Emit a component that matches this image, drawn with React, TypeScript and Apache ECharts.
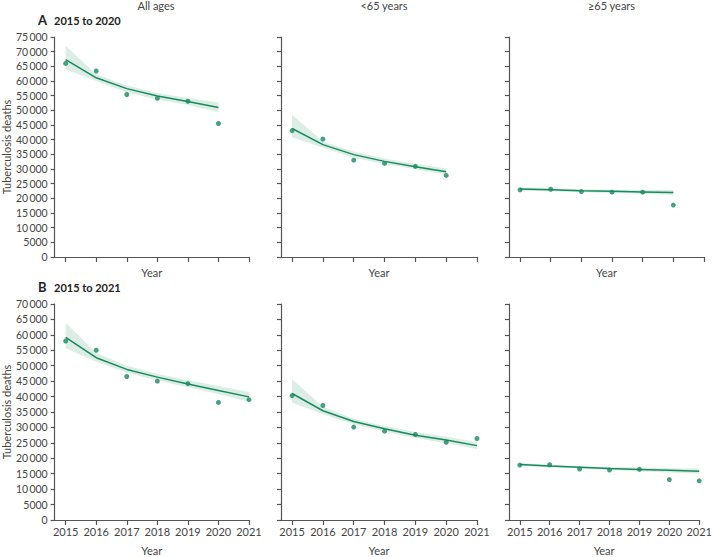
import React, { useEffect, useRef } from "react";
import * as echarts from "echarts";

const yearsA = [2015, 2016, 2017, 2018, 2019, 2020];
const yearsB = [2015, 2016, 2017, 2018, 2019, 2020, 2021];
const tickYears = [2015, 2016, 2017, 2018, 2019, 2020, 2021];

const columnTitles = ["All ages", "<65 years", "\u226565 years"];

// Panel A: 2015 to 2020
const aAllObs = [66000, 63400, 55400, 54100, 53100, 45500];
const aAllFit = [67300, 61100, 57400, 54900, 53000, 51000];
const aAllLo = [64000, 60000, 56100, 53700, 51800, 49400];
const aAllHi = [72000, 62300, 58500, 55900, 54200, 52700];

const aLtObs = [43100, 40200, 33000, 31900, 30900, 27800];
const aLtFit = [43800, 38300, 34900, 32600, 30800, 29100];
const aLtLo = [40700, 37300, 33800, 31700, 29900, 28000];
const aLtHi = [48500, 39400, 36000, 33600, 31800, 30200];

const aGeObs = [22900, 23100, 22300, 22100, 22100, 17700];
const aGeFit = [23200, 22900, 22600, 22400, 22200, 22000];
const aGeLo = [22600, 22400, 22100, 21800, 21500, 21100];
const aGeHi = [23800, 23400, 23100, 22900, 22800, 22800];

// Panel B: 2015 to 2021
const bAllObs = [58000, 55000, 46500, 45000, 44200, 38100, 39000];
const bAllFit = [59200, 52600, 48800, 46300, 44100, 42000, 39900];
const bAllLo = [55700, 51300, 47700, 45200, 43000, 40800, 38300];
const bAllHi = [63900, 54100, 50000, 47400, 45300, 43400, 41500];

const bLtObs = [40300, 37100, 30100, 28800, 27700, 25200, 26400];
const bLtFit = [41000, 35400, 31900, 29600, 27500, 25900, 24100];
const bLtLo = [38000, 34300, 31000, 28700, 26600, 24900, 23000];
const bLtHi = [45600, 36700, 32800, 30500, 28500, 27000, 25300];

const bGeObs = [17800, 17900, 16500, 16200, 16400, 13100, 12700];
const bGeFit = [18000, 17500, 17100, 16700, 16400, 16100, 15800];
const bGeLo = [17500, 17100, 16700, 16200, 15800, 15400, 15000];
const bGeHi = [18500, 17900, 17500, 17200, 17000, 16800, 16700];

const GREEN = "#178a5e";
const BAND = "rgba(40,150,100,0.17)";
const AXIS = "#555";
const TEXT = "#444";
const FONT = "Lato, 'Open Sans', sans-serif";

function fmt(v: number) {
  if (v >= 10000) {
    const s = String(v);
    return s.slice(0, s.length - 3) + "\u2009" + s.slice(s.length - 3);
  }
  return String(v);
}

export default function App() {
  const ref = useRef<HTMLDivElement>(null);
  useEffect(() => {
    if (!ref.current) return;
    const chart = echarts.init(ref.current, null, { renderer: "svg" });

    const panels = [
      { years: yearsA, obs: aAllObs, fit: aAllFit, lo: aAllLo, hi: aAllHi, row: 0, col: 0 },
      { years: yearsA, obs: aLtObs, fit: aLtFit, lo: aLtLo, hi: aLtHi, row: 0, col: 1 },
      { years: yearsA, obs: aGeObs, fit: aGeFit, lo: aGeLo, hi: aGeHi, row: 0, col: 2 },
      { years: yearsB, obs: bAllObs, fit: bAllFit, lo: bAllLo, hi: bAllHi, row: 1, col: 0 },
      { years: yearsB, obs: bLtObs, fit: bLtFit, lo: bLtLo, hi: bLtHi, row: 1, col: 1 },
      { years: yearsB, obs: bGeObs, fit: bGeFit, lo: bGeLo, hi: bGeHi, row: 1, col: 2 },
    ];
    const lefts = [53, 281, 509];
    const widths = [196, 196, 195];
    const tops = [37, 304];
    const heights = [220, 221];
    const yMax = [75000, 70000];

    const grid: any[] = [];
    const xAxis: any[] = [];
    const yAxis: any[] = [];
    const series: any[] = [];

    panels.forEach((p, i) => {
      grid.push({ left: lefts[p.col], width: widths[p.col], top: tops[p.row], height: heights[p.row] });
      xAxis.push({
        type: "value",
        gridIndex: i,
        min: 2014.64,
        max: 2021,
        splitLine: { show: false },
        axisLine: { show: true, lineStyle: { color: AXIS, width: 1.2 } },
        axisTick: { show: true, customValues: tickYears, length: 5, lineStyle: { color: AXIS, width: 1.2 } },
        axisLabel: {
          show: p.row === 1,
          customValues: tickYears,
          margin: 6,
          color: TEXT,
          fontSize: 11,
          fontFamily: FONT,
          formatter: (v: number) => String(v),
        },
        name: "Year",
        nameLocation: "middle",
        nameGap: p.row === 1 ? 25 : 10,
        nameTextStyle: { color: TEXT, fontSize: 11, fontFamily: FONT },
      });
      yAxis.push({
        type: "value",
        gridIndex: i,
        min: 0,
        max: yMax[p.row],
        interval: 5000,
        splitLine: { show: false },
        axisLine: { show: true, lineStyle: { color: AXIS, width: 1.2 } },
        axisTick: { show: true, length: 4, lineStyle: { color: AXIS, width: 1.2 } },
        axisLabel: {
          show: p.col === 0,
          margin: 7,
          color: TEXT,
          fontSize: 10.5,
          fontFamily: FONT,
          formatter: (v: number) => fmt(v),
        },
        name: p.col === 0 ? "Tuberculosis deaths" : "",
        nameLocation: "middle",
        nameGap: 41,
        nameRotate: 90,
        nameTextStyle: { color: TEXT, fontSize: 11, fontFamily: FONT },
      });
      const years = p.years;
      const lo = p.lo;
      const hi = p.hi;
      series.push({
        type: "custom",
        xAxisIndex: i,
        yAxisIndex: i,
        silent: true,
        z: 1,
        data: years.map((y, k) => [y, lo[k], hi[k]]),
        encode: { x: 0, y: [1, 2] },
        renderItem: (params: any, api: any) => {
          if (params.dataIndex !== 0) return null;
          const pts: number[][] = [];
          for (let k = 0; k < years.length; k++) pts.push(api.coord([years[k], hi[k]]));
          for (let k = years.length - 1; k >= 0; k--) pts.push(api.coord([years[k], lo[k]]));
          return {
            type: "polygon",
            shape: { points: pts },
            style: { fill: BAND, stroke: "none" },
          };
        },
      });
      series.push({
        type: "line",
        xAxisIndex: i,
        yAxisIndex: i,
        z: 3,
        data: years.map((y, k) => [y, p.fit[k]]),
        lineStyle: { color: GREEN, width: 1.5 },
        showSymbol: false,
        silent: true,
      });
      series.push({
        type: "scatter",
        xAxisIndex: i,
        yAxisIndex: i,
        z: 4,
        data: years.map((y, k) => [y, p.obs[k]]),
        symbol: "circle",
        symbolSize: 5,
        itemStyle: { color: GREEN },
        silent: true,
      });
    });

    const centers = [151, 379, 606.5];
    const graphic: any[] = [];
    columnTitles.forEach((t, c) => {
      graphic.push({
        type: "text",
        x: centers[c] + 5,
        y: 5,
        style: { text: t, fill: TEXT, font: `11px ${FONT}`, textAlign: "center", textVerticalAlign: "middle" },
      });
    });
    [
      { letter: "A", label: "2015 to 2020", y: 20 },
      { letter: "B", label: "2015 to 2021", y: 287 },
    ].forEach((h) => {
      graphic.push({
        type: "text",
        x: 38,
        y: h.y,
        style: { text: h.letter, fill: "#222", font: `bold 13px ${FONT}`, textVerticalAlign: "middle" },
      });
      graphic.push({
        type: "text",
        x: 54,
        y: h.y,
        style: { text: h.label, fill: "#222", font: `bold 11px ${FONT}`, textVerticalAlign: "middle" },
      });
    });

    chart.setOption({
      animation: false,
      backgroundColor: "#fff",
      grid,
      xAxis,
      yAxis,
      series,
      graphic,
    });
    return () => chart.dispose();
  }, []);
  return <div ref={ref} style={{ width: 715, height: 557, position: "absolute", left: 0, top: 0 }} />;
}
